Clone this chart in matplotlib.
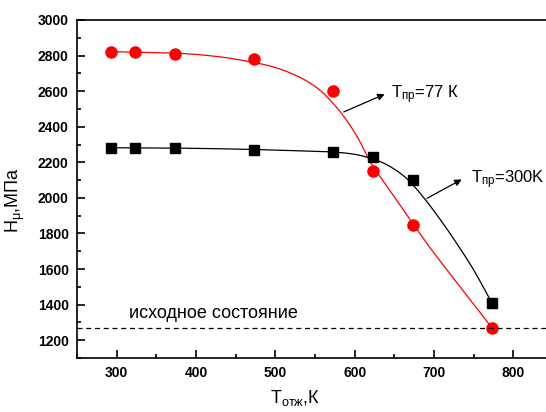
import matplotlib
matplotlib.use("Agg")
import numpy as np
import matplotlib.pyplot as plt
from matplotlib.ticker import MultipleLocator

plt.rcParams['font.family'] = ['Liberation Sans', 'DejaVu Sans']
plt.rcParams['mathtext.fontset'] = 'custom'
plt.rcParams['mathtext.rm'] = 'Liberation Sans'
plt.rcParams['mathtext.it'] = 'Liberation Sans:italic'

# measured points
t_anneal = [293, 323, 373, 473, 573, 623, 673, 773]
h_77 = [2820, 2820, 2810, 2780, 2600, 2150, 1850, 1270]
h_300 = [2280, 2280, 2280, 2270, 2260, 2230, 2100, 1410]

# fitted curves
fit77_x = [293, 373, 420, 455, 496, 530, 555, 575, 590, 605, 620, 640, 673, 700, 740, 773]
fit77_y = [2822, 2814, 2798, 2776, 2738, 2680, 2610, 2520, 2435, 2330, 2200, 2070, 1858, 1690, 1460, 1270]
fit300_x = [293, 373, 455, 520, 572, 600, 615, 630, 644, 660, 673, 690, 710, 730, 750, 773]
fit300_y = [2282, 2280, 2274, 2266, 2258, 2245, 2229, 2208, 2178, 2130, 2075, 1985, 1865, 1735, 1595, 1410]

h_initial = 1270


def smooth(xs, ys, n=20):
    # Catmull-Rom through the read points, only to draw a smooth line
    p = np.column_stack([xs, ys]).astype(float)
    p = np.vstack([p[0], p, p[-1]])
    out = []
    t = np.linspace(0, 1, n, endpoint=False)[:, None]
    for i in range(1, len(p) - 2):
        p0, p1, p2, p3 = p[i - 1], p[i], p[i + 1], p[i + 2]
        seg = 0.5 * ((2 * p1) + (-p0 + p2) * t + (2 * p0 - 5 * p1 + 4 * p2 - p3) * t ** 2
                     + (-p0 + 3 * p1 - 3 * p2 + p3) * t ** 3)
        out.append(seg)
    out.append(p[-2][None, :])
    out = np.vstack(out)
    return out[:, 0], out[:, 1]


fig = plt.figure(figsize=(5.46, 4.12), dpi=100)
# axes run past the right edge, as in the cropped original
ax = fig.add_axes([77 / 546, 1 - 358 / 412, 476 / 546, 338 / 412])

ax.plot(*smooth(fit77_x, fit77_y), color='red', linewidth=0.9)
ax.plot(*smooth(fit300_x, fit300_y), color='black', linewidth=0.9)
ax.plot(t_anneal, h_77, 'o', color='red', markersize=8, linestyle='none')
ax.plot(t_anneal, h_300, 's', color='black', markersize=6.5, linestyle='none')
ax.axhline(h_initial, color='black', linestyle=(0, (4, 3)), linewidth=0.9)

ax.text(316, 1300, 'исходное состояние', fontsize=13, va='bottom')

ax.annotate('', xy=(641, 2589), xytext=(583, 2477),
            arrowprops=dict(arrowstyle='-|>', color='black', lw=0.9, mutation_scale=10))
ax.text(646, 2580, r'T$_{\mathrm{пр}}$=77 К', fontsize=12, va='center')
ax.annotate('', xy=(738, 2111), xytext=(688, 1990),
            arrowprops=dict(arrowstyle='-|>', color='black', lw=0.9, mutation_scale=10))
ax.text(747, 2100, r'T$_{\mathrm{пр}}$=300K', fontsize=12, va='center')

ax.set_xlim(250, 850)
ax.set_ylim(1100, 3000)
ax.xaxis.set_major_locator(MultipleLocator(100))
ax.xaxis.set_minor_locator(MultipleLocator(50))
ax.yaxis.set_major_locator(MultipleLocator(200))
ax.yaxis.set_minor_locator(MultipleLocator(100))
ax.tick_params(which='both', direction='in', top=False, right=False, width=1.2)
ax.tick_params(which='major', length=6, labelsize=10, pad=6)
ax.tick_params(which='minor', length=3)
for lab in ax.get_xticklabels() + ax.get_yticklabels():
    lab.set_fontweight('bold')
for s in ax.spines.values():
    s.set_linewidth(1.2)

ax.set_xlabel(r'T$_{\mathrm{отж}}$,К', fontsize=13)
ax.set_ylabel(r'H$_{\mathrm{\mu}}$,МПа', fontsize=13)
ax.xaxis.set_label_coords(0.458, -0.09)
ax.yaxis.set_label_coords(-0.105, 0.467)

fig.savefig('out.png', dpi=100)
